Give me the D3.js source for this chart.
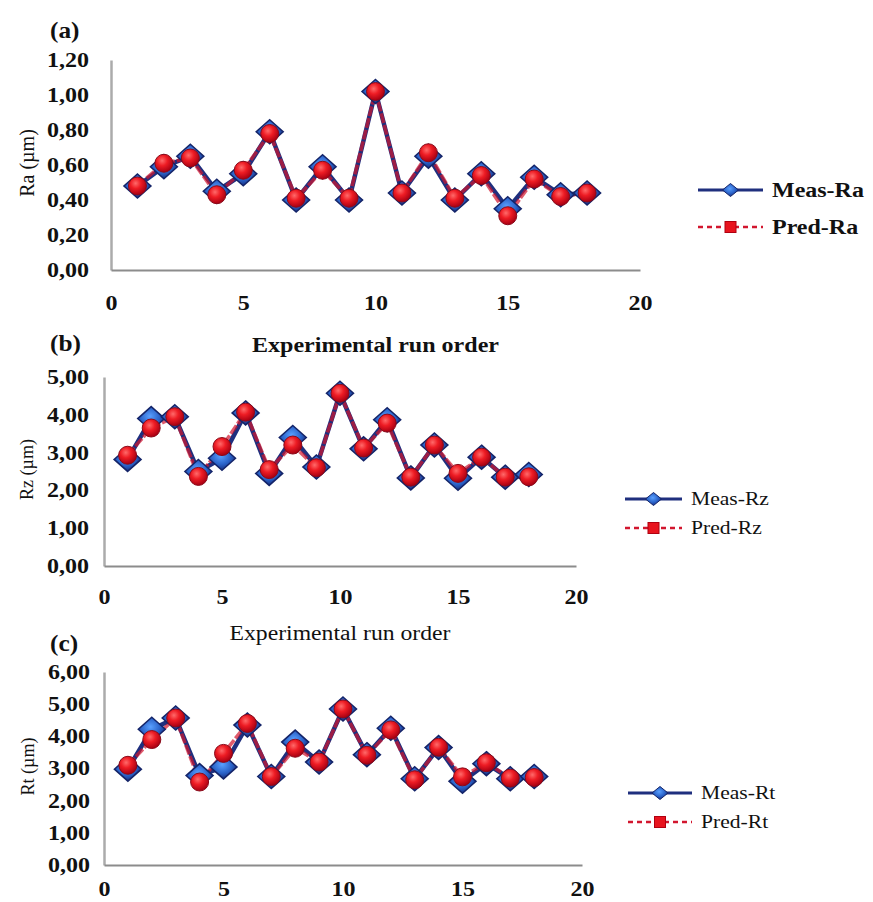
<!DOCTYPE html>
<html>
<head>
<meta charset="utf-8">
<script src="https://cdn.jsdelivr.net/npm/d3@7"></script>
<style>
  html, body { margin: 0; padding: 0; background: #fff; }
  svg { display: block; }
  text { font-family: "Liberation Serif", "DejaVu Serif", serif; fill: #111; }
</style>
</head>
<body>
<svg id="chart" width="873" height="902"></svg>
<script>
// Experimental run order (x values)
const runs = [1, 2, 3, 4, 5, 6, 7, 8, 9, 10, 11, 12, 13, 14, 15, 16, 17, 18];

// Average roughness Ra (µm)
const measRa = [0.48, 0.59, 0.65, 0.45, 0.55, 0.79, 0.40, 0.59, 0.40, 1.02, 0.44, 0.65, 0.40, 0.55, 0.35, 0.53, 0.43, 0.44];
const predRa = [0.48, 0.61, 0.64, 0.43, 0.57, 0.78, 0.41, 0.57, 0.41, 1.02, 0.44, 0.67, 0.41, 0.54, 0.31, 0.52, 0.42, 0.44];

// Mean roughness depth Rz (µm)
const measRz = [2.82, 3.90, 3.95, 2.50, 2.85, 4.05, 2.45, 3.40, 2.62, 4.57, 3.10, 3.87, 2.33, 3.20, 2.32, 2.88, 2.35, 2.42];
const predRz = [2.93, 3.65, 3.95, 2.37, 3.16, 4.07, 2.55, 3.20, 2.60, 4.57, 3.12, 3.78, 2.35, 3.20, 2.45, 2.88, 2.35, 2.36];

// Total roughness height Rt (µm)
const measRt = [2.98, 4.22, 4.57, 2.78, 3.05, 4.35, 2.75, 3.82, 3.20, 4.85, 3.43, 4.25, 2.68, 3.65, 2.60, 3.15, 2.68, 2.75];
const predRt = [3.10, 3.90, 4.57, 2.58, 3.47, 4.40, 2.75, 3.63, 3.20, 4.85, 3.41, 4.20, 2.65, 3.66, 2.74, 3.18, 2.70, 2.72];

// Axis ticks
const xTicks = [0, 5, 10, 15, 20];
const raTicks = [0, 0.2, 0.4, 0.6, 0.8, 1.0, 1.2];
const rzTicks = [0, 1, 2, 3, 4, 5];
const rtTicks = [0, 1, 2, 3, 4, 5, 6];

const panelLetters = ["(a)", "(b)", "(c)"];
const yTitles = ["Ra (µm)", "Rz (µm)", "Rt (µm)"];
const measNames = ["Meas-Ra", "Meas-Rz", "Meas-Rt"];
const predNames = ["Pred-Ra", "Pred-Rz", "Pred-Rt"];
const xTitle = "Experimental run order";

// Layout of each panel (pixel geometry only)
const panels = [
  { meas: measRa, pred: predRa, yTicks: raTicks, yMax: 1.2,
    x0: 111, x1: 640, yTop: 60, yBot: 270,
    letterY: 30, yTitleX: 27, tickFont: 20, yTitleFont: 20,
    legX: 698, legW: 65, legY: [190, 227], legFont: 20, legBold: true,
    titleY: 345, titleW: 247, titleBold: true, yLabelGap: 22, xLabelY: 303 },
  { meas: measRz, pred: predRz, yTicks: rzTicks, yMax: 5,
    x0: 104, x1: 576, yTop: 377, yBot: 566,
    letterY: 343, yTitleX: 27, tickFont: 20, yTitleFont: 18,
    legX: 625, legW: 57, legY: [499, 528], legFont: 18, legBold: false,
    titleY: 633, titleW: 221, titleBold: false, yLabelGap: 15, xLabelY: 597 },
  { meas: measRt, pred: predRt, yTicks: rtTicks, yMax: 6,
    x0: 104, x1: 582, yTop: 672, yBot: 865,
    letterY: 643, yTitleX: 28, tickFont: 20, yTitleFont: 18,
    legX: 628, legW: 64, legY: [793, 822], legFont: 18, legBold: false,
    titleY: null, yLabelGap: 14, xLabelY: 889 }
];

const SX = 1.2; // horizontal stretch of the serif lettering
const svg = d3.select("#chart");

// gradients for the glossy markers
const defs = svg.append("defs");
const gBlue = defs.append("radialGradient").attr("id", "gBlue")
  .attr("cx", "45%").attr("cy", "40%").attr("r", "60%");
gBlue.append("stop").attr("offset", "0%").attr("stop-color", "#5aa0ff");
gBlue.append("stop").attr("offset", "60%").attr("stop-color", "#2a62c8");
gBlue.append("stop").attr("offset", "100%").attr("stop-color", "#182f80");
const gRed = defs.append("radialGradient").attr("id", "gRed")
  .attr("cx", "40%").attr("cy", "35%").attr("r", "65%");
gRed.append("stop").attr("offset", "0%").attr("stop-color", "#ff6a6a");
gRed.append("stop").attr("offset", "45%").attr("stop-color", "#ee1c24");
gRed.append("stop").attr("offset", "100%").attr("stop-color", "#a80012");

const NAVY = "#1f2f7e";
const RED = "#d2162e";

function stretch(sel, sx) {
  sel.each(function () {
    const t = d3.select(this);
    const x = +t.attr("x") || 0;
    const y = +t.attr("y") || 0;
    t.attr("transform", `translate(${x},${y}) scale(${sx},1)`).attr("x", 0).attr("y", 0);
  });
}

function diamond(w, h) {
  return `M0,${-h}L${w},0L0,${h}L${-w},0Z`;
}

panels.forEach((p, i) => {
  const g = svg.append("g");
  const x = d3.scaleLinear().domain([0, 20]).range([p.x0, p.x1]);
  const y = d3.scaleLinear().domain([0, p.yMax]).range([p.yBot, p.yTop]);
  const fmt = v => d3.format(".2f")(v).replace(".", ",");

  // y axis
  const ya = g.append("g").attr("transform", `translate(${p.x0},0)`)
    .call(d3.axisLeft(y).tickValues(p.yTicks).tickFormat(fmt).tickSize(0).tickPadding(p.yLabelGap));
  ya.select(".domain").attr("stroke", "#ababab").attr("stroke-width", 2.5);
  ya.selectAll("text").attr("font-size", p.tickFont).attr("font-weight", "bold")
    .attr("font-family", "Liberation Serif").attr("fill", "#222");
  stretch(ya.selectAll("text"), SX);

  // x axis
  const xa = g.append("g").attr("transform", `translate(0,${p.yBot})`)
    .call(d3.axisBottom(x).tickValues(xTicks).tickFormat(d3.format("d")).tickSize(0).tickPadding(0));
  xa.select(".domain").attr("stroke", "#8c8c8c").attr("stroke-width", 2);
  xa.selectAll("text").attr("font-size", p.tickFont).attr("font-weight", "bold")
    .attr("font-family", "Liberation Serif").attr("fill", "#222")
    .attr("dy", "0.35em").attr("y", p.xLabelY - p.yBot);
  stretch(xa.selectAll("text"), SX);

  // panel letter
  g.append("text").attr("x", 50).attr("y", p.letterY).attr("dy", "0.35em")
    .attr("font-size", 23).attr("font-weight", "bold").text(panelLetters[i])
    .call(s => stretch(s, 1.1));

  // y title
  g.append("text")
    .attr("transform", `translate(${p.yTitleX},${(p.yTop + p.yBot) / 2 - 2}) rotate(-90)`)
    .attr("text-anchor", "middle").attr("dy", "0.35em")
    .attr("font-size", p.yTitleFont).text(yTitles[i]);

  // x title under the panel
  if (p.titleY !== null) {
    g.append("text").attr("x", (p.x0 + p.x1) / 2).attr("y", p.titleY).attr("dy", "0.35em")
      .attr("text-anchor", "middle").attr("font-size", 20)
      .attr("font-weight", p.titleBold ? "bold" : "normal")
      .attr("textLength", p.titleW).attr("lengthAdjust", "spacingAndGlyphs")
      .text(xTitle);
  }

  const pts = runs.map((r, k) => ({ r, m: p.meas[k], p: p.pred[k] }));

  // measured series
  g.append("path").datum(pts)
    .attr("d", d3.line().x(d => x(d.r)).y(d => y(d.m)))
    .attr("fill", "none").attr("stroke", NAVY).attr("stroke-width", 4.5)
    .attr("stroke-linejoin", "round");
  // predicted series
  g.append("path").datum(pts)
    .attr("d", d3.line().x(d => x(d.r)).y(d => y(d.p)))
    .attr("fill", "none").attr("stroke", RED).attr("stroke-width", 3.6)
    .attr("stroke-dasharray", "10,2").attr("stroke-opacity", 0.7)
    .attr("stroke-linejoin", "round");

  g.append("g").selectAll("path").data(pts).join("path")
    .attr("transform", d => `translate(${x(d.r)},${y(d.m)})`)
    .attr("d", diamond(13.5, 12))
    .attr("fill", "url(#gBlue)").attr("stroke", "#142468").attr("stroke-width", 1.5);

  g.append("g").selectAll("circle").data(pts).join("circle")
    .attr("cx", d => x(d.r)).attr("cy", d => y(d.p)).attr("r", 9)
    .attr("fill", "url(#gRed)").attr("stroke", "#8a0a1a").attr("stroke-width", 1);

  // legend
  const lg = g.append("g");
  const lx0 = p.legX, lx1 = p.legX + p.legW, lxm = (lx0 + lx1) / 2;
  lg.append("line").attr("x1", lx0).attr("x2", lx1).attr("y1", p.legY[0]).attr("y2", p.legY[0])
    .attr("stroke", NAVY).attr("stroke-width", 3);
  lg.append("path").attr("transform", `translate(${lxm},${p.legY[0]})`)
    .attr("d", diamond(8, 6.5)).attr("fill", "url(#gBlue)").attr("stroke", "#142468").attr("stroke-width", 1);
  lg.append("line").attr("x1", lx0).attr("x2", lx1).attr("y1", p.legY[1]).attr("y2", p.legY[1])
    .attr("stroke", RED).attr("stroke-width", 2.5).attr("stroke-dasharray", "5,4");
  lg.append("rect").attr("x", lxm - 5.5).attr("y", p.legY[1] - 5.5).attr("width", 11).attr("height", 11)
    .attr("fill", "#e8141e").attr("stroke", "#b00010").attr("stroke-width", 1);
  [measNames[i], predNames[i]].forEach((name, k) => {
    lg.append("text").attr("x", lx1 + 9).attr("y", p.legY[k]).attr("dy", "0.35em")
      .attr("font-size", p.legFont).attr("font-weight", p.legBold ? "bold" : "normal")
      .text(name).call(s => stretch(s, SX));
  });
});
</script>
</body>
</html>
